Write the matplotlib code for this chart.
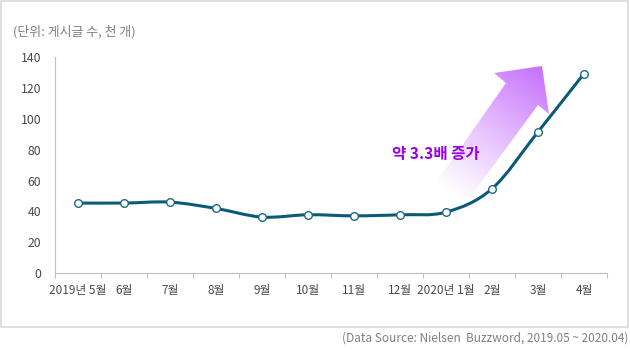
import numpy as np
import matplotlib
matplotlib.use("Agg")
import matplotlib.pyplot as plt
from matplotlib.path import Path
from matplotlib.patches import PathPatch, Rectangle, Polygon
from matplotlib.colors import to_rgb

plt.rcParams['font.family'] = ['Noto Sans CJK KR', 'DejaVu Sans']

# ---- data ----
months = ['2019년 5월', '6월', '7월', '8월', '9월', '10월', '11월', '12월',
          '2020년 1월', '2월', '3월', '4월']
posts = [45.4, 45.4, 46.0, 41.9, 36.3, 37.8, 37.1, 37.8, 39.5, 54.7, 91.6, 129.4]
yticks = [0, 20, 40, 60, 80, 100, 120, 140]
unit_label = '(단위: 게시글 수, 천 개)'
source_label = '(Data Source: Nielsen  Buzzword, 2019.05 ~ 2020.04)'
note_label = '약 3.3배 증가'

W, H = 630, 354
fig = plt.figure(figsize=(W / 100, H / 100), dpi=100)

# border box
fig.patches.append(Rectangle((1 / W, 27 / H), 627 / W, 326 / H, transform=fig.transFigure,
                             fill=False, edgecolor='#d9d9d9', lw=1.2, zorder=0))

ax = fig.add_axes([55 / W, (H - 273) / H, (607 - 55) / W, (273 - 57.3) / H])
n = len(months)
x = np.arange(n) + 0.5
y = np.array(posts)
ax.set_xlim(0, n)
ax.set_ylim(0, 140)

# smooth line via Catmull-Rom -> cubic Bezier
pts = np.column_stack([x, y])
verts = [pts[0]]
codes = [Path.MOVETO]
t = 1 / 6
for i in range(n - 1):
    p0 = pts[i - 1] if i > 0 else pts[i]
    p1 = pts[i]
    p2 = pts[i + 1]
    p3 = pts[i + 2] if i + 2 < n else pts[i + 1]
    c1 = p1 + (p2 - p0) * t
    c2 = p2 - (p3 - p1) * t
    verts += [c1, c2, p2]
    codes += [Path.CURVE4] * 3
ax.add_patch(PathPatch(Path(verts, codes), fill=False, edgecolor='#0b5a78', lw=2.2,
                       capstyle='round', joinstyle='round', zorder=3))
ax.plot(x, y, ls='none', marker='o', ms=5.5, mfc='white', mec='#1b6a85', mew=1.0, zorder=4)

# axes styling
for s in ['top', 'right']:
    ax.spines[s].set_visible(False)
ax.spines['left'].set_color('#bfbfbf')
ax.spines['bottom'].set_color('#bfbfbf')
ax.set_yticks(yticks)
ax.tick_params(axis='y', length=0, pad=10, labelsize=8.8, labelcolor='#4a4a4a')
ax.set_xticks(np.arange(n + 1))
ax.set_xticklabels([])
ax.tick_params(axis='x', which='major', length=3.5, color='#bfbfbf', direction='out')
ax.set_xticks(x, minor=True)
ax.set_xticklabels(months, minor=True)
ax.tick_params(axis='x', which='minor', length=0, pad=8, labelsize=8.5, labelcolor='#4a4a4a')

# texts
fig.text(13 / W, (H - 32) / H, unit_label, fontsize=9.3, color='#808080', va='center', ha='left')
fig.text(628 / W, (H - 338) / H, source_label, fontsize=8.5, color='#808080', va='center', ha='right')
fig.text(392 / W, (H - 154) / H, note_label, fontsize=11.2, color='#9a00e8',
         fontweight='bold', va='center', ha='left')

# gradient arrow (decoration) in pixel coordinates
ov = fig.add_axes([0, 0, 1, 1], zorder=1)
ov.set_xlim(0, W)
ov.set_ylim(H, 0)
ov.axis('off')
ov.patch.set_alpha(0)
arrow = [(428, 194), (506, 83), (494, 73), (542, 66), (549, 114), (538, 105), (471, 196)]
poly = Polygon(arrow, closed=True, facecolor='none', edgecolor='none')
ov.add_patch(poly)
x0, x1, y0, y1 = 420, 555, 60, 200
gx, gy = np.meshgrid(np.linspace(x0, x1, 200), np.linspace(y0, y1, 200))
d = np.array([542 - 450, 66 - 195], float)
d /= np.linalg.norm(d)
proj = (gx - 450) * d[0] + (gy - 195) * d[1]
a = np.clip(proj / proj.max(), 0, 1) ** 1.1
img = np.zeros(gx.shape + (4,))
img[..., :3] = to_rgb('#c163fd')
img[..., 3] = a
im = ov.imshow(img, extent=(x0, x1, y1, y0), origin='upper', interpolation='bilinear', zorder=1)
im.set_clip_path(poly)
ov.set_xlim(0, W)
ov.set_ylim(H, 0)

# keep line above arrow
ax.set_zorder(2)
ax.patch.set_alpha(0)

fig.savefig('out.png', dpi=100)
